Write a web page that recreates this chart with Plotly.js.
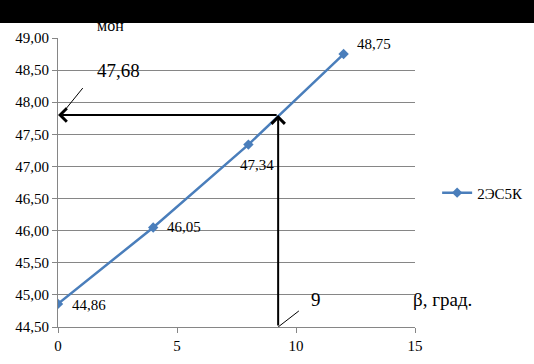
<!DOCTYPE html>
<html><head><meta charset="utf-8">
<script src="https://cdn.plot.ly/plotly-3.0.1.min.js"></script>
<style>html,body{margin:0;padding:0;background:#fff}#wrap{position:relative;width:534px;height:364px}#band{position:absolute;left:0;top:0;width:534px;height:23px;background:#000;z-index:10}</style>
</head><body><div id="wrap"><div id="chart" style="width:534px;height:364px"></div><div id="band"></div></div>
<script>
const beta = [0, 4, 8, 12];
const values = [44.86, 46.05, 47.34, 48.75];
const seriesName = '2ЭС5К';
const readX = 9.25, readY = 47.8;
const readXLabel = '9', readYLabel = '47,68';
const xTicks = [0, 5, 10, 15];

const fmt = v => v.toFixed(2).replace('.', ',');
const labelOffsets = [[12, -1], [12, 0], [9, -20], [11, 10]];

const font = 'Liberation Serif';
const ann = values.map((v, i) => ({
  x: beta[i], y: v, xref: 'x', yref: 'y', text: fmt(v), showarrow: false,
  xanchor: i === 2 ? 'center' : 'left', yanchor: 'middle',
  xshift: labelOffsets[i][0], yshift: labelOffsets[i][1],
  font: {family: font, size: 15, color: '#000'}
}));
ann.push(
  {x: 0, y: readY, ax: readX, ay: readY, xref: 'x', yref: 'y', axref: 'x', ayref: 'y', text: '', showarrow: true, arrowhead: 4, arrowsize: 1.3, arrowwidth: 2, arrowcolor: '#000'},
  {x: readX, y: readY, ax: readX, ay: 44.5, xref: 'x', yref: 'y', axref: 'x', ayref: 'y', text: '', showarrow: true, arrowhead: 4, arrowsize: 1.3, arrowwidth: 2, arrowcolor: '#000'},
  {x: 10.83, y: 44.93, xref: 'x', yref: 'y', text: readXLabel, showarrow: false, font: {family: font, size: 19, color: '#000'}},
  {x: 2.54, y: 48.49, xref: 'x', yref: 'y', text: readYLabel, showarrow: false, font: {family: font, size: 19, color: '#000'}},
  {x: 0.99, y: 0.052, xref: 'paper', yref: 'paper', xanchor: 'left', text: 'β, град.', showarrow: false, font: {family: font, size: 19, color: '#000'}},
  {x: 0.104, y: 1.08, xref: 'paper', yref: 'paper', text: 'мон', showarrow: false, font: {family: font, size: 16, color: '#000'}}
);

const shapes = [
  {type: 'line', xref: 'x', yref: 'y', x0: readX, y0: 44.5, x1: 10.12, y1: 44.75, line: {color: '#000', width: 1}},
  {type: 'line', xref: 'x', yref: 'y', x0: 0.12, y0: readY, x1: 1.04, y1: 48.22, line: {color: '#000', width: 1}}
];

Plotly.newPlot('chart', [{
  x: beta, y: values, name: seriesName, type: 'scatter', mode: 'lines+markers',
  line: {color: '#4a7ebb', width: 2.5},
  marker: {symbol: 'diamond', size: 8, color: '#4a7ebb'}
}], {
  width: 534, height: 364,
  margin: {l: 58, r: 119, t: 38, b: 37, autoexpand: false},
  separators: ', ',
  paper_bgcolor: '#fff', plot_bgcolor: '#fff',
  font: {family: font, size: 15, color: '#000'},
  showlegend: true,
  legend: {x: 1.062, y: 0.464, xanchor: 'left', yanchor: 'middle', font: {family: font, size: 15, color: '#000'}, bgcolor: 'rgba(0,0,0,0)'},
  xaxis: {range: [0, 15], tickvals: xTicks, ticks: 'outside', ticklen: 5, tickcolor: '#868686', showgrid: false, zeroline: false, showline: true, linecolor: '#868686', linewidth: 1, tickfont: {family: font, size: 15, color: '#000'}},
  yaxis: {range: [44.5, 49], dtick: 0.5, tick0: 44.5, tickformat: '.2f', ticks: 'outside', ticklen: 5, tickcolor: '#868686', showgrid: true, gridcolor: '#868686', gridwidth: 1, zeroline: false, showline: true, linecolor: '#868686', linewidth: 1, tickfont: {family: font, size: 15, color: '#000'}},
  annotations: ann,
  shapes: shapes
}, {displayModeBar: false, staticPlot: true});
</script></body></html>
